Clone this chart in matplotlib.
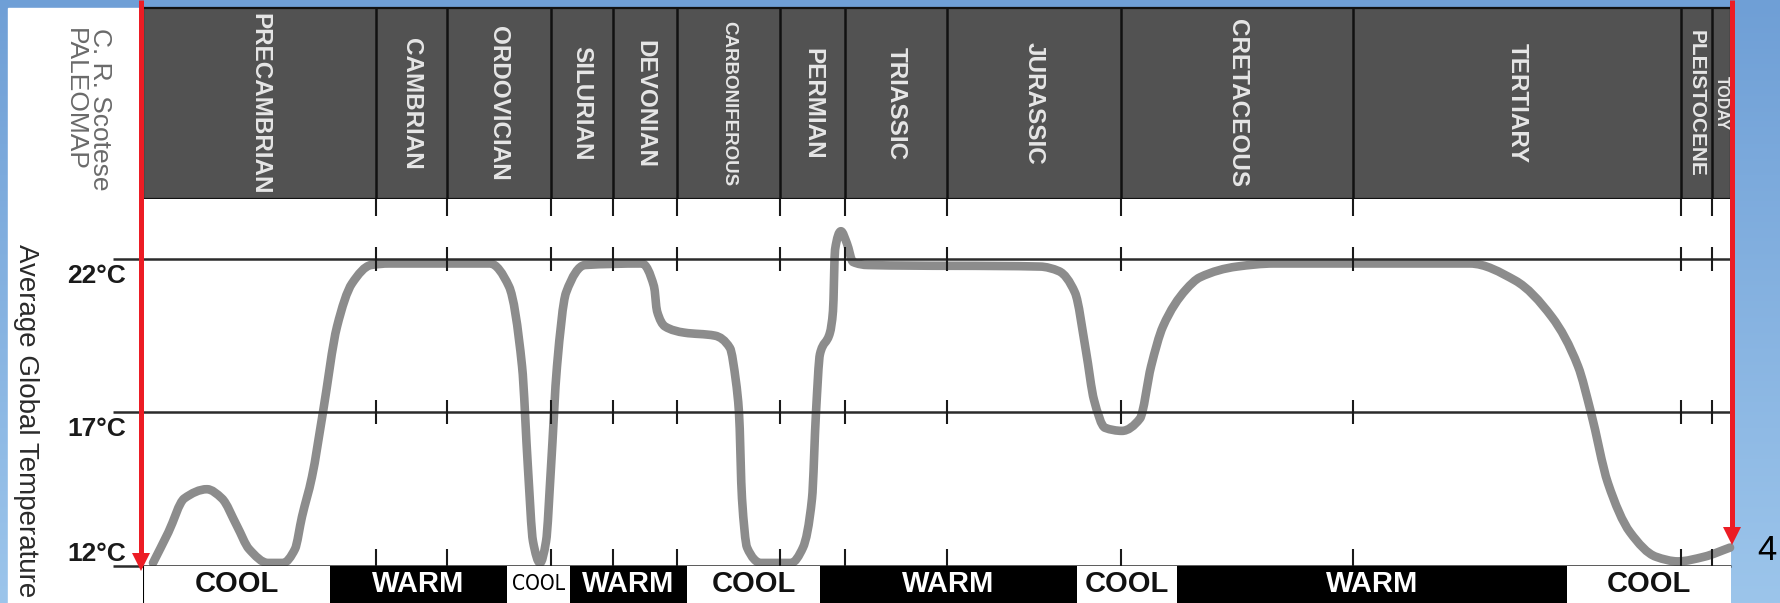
import numpy as np
import matplotlib
matplotlib.use("Agg")
import matplotlib.pyplot as plt
from matplotlib.patches import Rectangle, Polygon, PathPatch
from matplotlib.path import Path
from matplotlib.colors import LinearSegmentedColormap

plt.rcParams['font.family'] = ['Liberation Sans', 'DejaVu Sans']

# ---------------- data ----------------
# positions along the (non-linear) geologic time axis, 0 = left edge, 100 = today
period_names = ['PRECAMBRIAN', 'CAMBRIAN', 'ORDOVICIAN', 'SILURIAN', 'DEVONIAN',
                'CARBONIFEROUS', 'PERMIAN', 'TRIASSIC', 'JURASSIC', 'CRETACEOUS',
                'TERTIARY', 'PLEISTOCENE', 'TODAY']
period_bounds = [0, 14.67, 19.14, 25.69, 29.60, 33.63, 40.11, 44.21, 50.63,
                 61.59, 76.20, 96.85, 98.80, 100]

climate_labels = ['COOL', 'WARM', 'COOL', 'WARM', 'COOL', 'WARM', 'COOL', 'WARM', 'COOL']
climate_bounds = [0, 11.78, 22.92, 26.89, 34.26, 42.63, 58.82, 65.11, 89.67, 100]

temp_ticks = [22, 17, 12]
temp_tick_labels = ['22°C', '17°C', '12°C']

curve_x = [0.63, 1.6, 2.6, 4.03, 4.97, 5.92, 6.68, 7.87, 8.82, 9.57, 10.01, 10.64,
           11.33, 12.22, 13.16, 14.36, 15.5, 21.85, 23.05, 23.87, 24.24, 24.56,
           25.0, 25.38, 25.69, 26.07, 26.64, 27.83, 31.42, 32.18, 32.37, 32.87,
           34.07, 36.02, 36.96, 37.34, 37.53, 37.72, 38.04, 38.92, 40.81, 41.56,
           42.13, 42.38, 42.63, 43.26, 43.45, 43.58, 43.95, 44.33, 44.71, 45.65,
           56.49, 57.68, 58.69, 59.38, 59.89, 60.58, 61.65, 62.78, 63.48, 64.23,
           65.68, 66.56, 68.89, 71.22, 83.56, 86.40, 88.73, 90.37, 91.18, 92.25,
           93.64, 95.28, 96.66, 98.30, 99.94]
curve_T = [12.1, 13.1, 14.2, 14.5, 14.2, 13.3, 12.55, 12.1, 12.1, 12.55, 13.6, 14.9,
           17.0, 19.8, 21.2, 21.8, 21.85, 21.85, 21.1, 18.5, 15.2, 12.8,
           12.1, 12.8, 15.2, 18.5, 20.9, 21.8, 21.85, 21.1, 20.3, 19.8,
           19.6, 19.5, 19.1, 18.0, 17.0, 14.2, 12.6, 12.1, 12.1, 12.6,
           14.2, 17.0, 18.9, 19.6, 20.3, 22.3, 22.9, 22.5, 21.9, 21.8,
           21.75, 21.6, 20.9, 19.0, 17.4, 16.5, 16.4, 16.8, 18.5, 19.8,
           21.0, 21.4, 21.75, 21.85, 21.85, 21.3, 20.1, 18.5, 17.0, 14.7,
           13.1, 12.3, 12.15, 12.3, 12.6]

# ---------------- layout ----------------
W, H = 1781, 603
fig = plt.figure(figsize=(W / 100, H / 100), dpi=100)


def fax(x0, y0, x1, y1, **kw):
    return fig.add_axes([x0 / W, 1 - y1 / H, (x1 - x0) / W, (y1 - y0) / H], **kw)


def smooth_path(xs, ys):
    """Bezier path through every read point, with monotone (Fritsch-Carlson) tangents."""
    x = np.asarray(xs, float)
    y = np.asarray(ys, float)
    h = np.diff(x)
    d = np.diff(y) / h
    n = len(x)
    m = np.zeros(n)
    m[0], m[-1] = d[0], d[-1]
    for k in range(1, n - 1):
        if d[k - 1] * d[k] > 0:
            w1 = 2 * h[k] + h[k - 1]
            w2 = h[k] + 2 * h[k - 1]
            m[k] = (w1 + w2) / (w1 / d[k - 1] + w2 / d[k])
    verts = [(x[0], y[0])]
    codes = [Path.MOVETO]
    for k in range(n - 1):
        verts += [(x[k] + h[k] / 3, y[k] + m[k] * h[k] / 3),
                  (x[k + 1] - h[k] / 3, y[k + 1] - m[k + 1] * h[k] / 3),
                  (x[k + 1], y[k + 1])]
        codes += [Path.CURVE4] * 3
    return Path(verts, codes)


# background
bg = fax(0, 0, W, H)
bg.set_zorder(-5)
grad = np.linspace(0, 1, 256)[:, None]
cmap = LinearSegmentedColormap.from_list('bg', ['#6f9fd6', '#9cc5eb'])
bg.imshow(grad, extent=[0, W, H, 0], cmap=cmap, aspect='auto')
bg.add_patch(Rectangle((8, 8), 135, H, color='white'))
bg.set_xlim(0, W)
bg.set_ylim(H, 0)
bg.axis('off')

# header with period names
hd = fax(143, 8, 1731, 199)
hd.set_facecolor('#525252')
hd.set_xlim(0, 100)
hd.set_ylim(0, 1)
hd.set_xticks([])
hd.set_yticks([])
for s in hd.spines.values():
    s.set_color('#111111')
    s.set_linewidth(1.6)
hd.vlines(period_bounds[1:-1], 0, 1, color='#111111', lw=1.8)
label_size = {'CARBONIFEROUS': 13.5, 'PLEISTOCENE': 15, 'TODAY': 11.5}
for name, a, b in zip(period_names, period_bounds[:-1], period_bounds[1:]):
    hd.text((a + b) / 2, 0.5, name, rotation=270, ha='center', va='center',
            color='#e6e6e6', fontweight='bold', fontsize=label_size.get(name, 17.5),
            clip_on=True)

# main temperature panel
ax = fax(143, 199, 1731, 566)
ax.set_xlim(0, 100)
ax.set_ylim(12, 23.95)
ax.set_facecolor('white')
ax.set_xticks([])
ax.set_yticks([])
for s in ax.spines.values():
    s.set_visible(False)

curve = PathPatch(smooth_path(curve_x, curve_T), facecolor='none', edgecolor='#8c8c8c',
                  lw=6.2, joinstyle='round', capstyle='round', zorder=2, clip_on=False)
ax.add_patch(curve)
ax.hlines(temp_ticks, -1.9, 100, color='#2b2b2b', lw=1.8, zorder=3, clip_on=False)
inner = period_bounds[1:-1]
for t in temp_ticks[:2]:
    ax.vlines(inner, t - 0.39, t + 0.39, color='#1a1a1a', lw=1.5, zorder=3)
ax.vlines(inner, 12, 12.55, color='#1a1a1a', lw=1.5, zorder=3)
ax.vlines(inner, 23.95 - 0.55, 23.95, color='#1a1a1a', lw=1.5, zorder=3)

label_offsets = [-0.55, -0.55, 0.4]
for t, lab, off in zip(temp_ticks, temp_tick_labels, label_offsets):
    ax.text(-1.07, t + off, lab, ha='right', va='center', fontsize=19,
            fontweight='bold', color='#1a1a1a', clip_on=False)

# climate band
bd = fax(143, 566, 1731, 603)
bd.set_xlim(0, 100)
bd.set_ylim(0, 1)
bd.axis('off')
for lab, a, b in zip(climate_labels, climate_bounds[:-1], climate_bounds[1:]):
    warm = lab == 'WARM'
    bd.axvspan(a, b, color='black' if warm else 'white', lw=0)
    if (b - a) < 5:
        bd.text((a + b) / 2, 0.5, lab, ha='center', va='center', fontsize=15,
                family=['DejaVu Sans'], fontstretch='condensed', color='black')
    else:
        bd.text((a + b) / 2, 0.5, lab, ha='center', va='center', fontsize=21,
                fontweight='bold', color='white' if warm else '#111111')
bd.axvline(0, color='black', lw=1.5)

# axis titles
fig.text(26 / W, 1 - 244 / H, 'Average Global Temperature', rotation=270,
         ha='center', va='top', fontsize=20, color='#2a2a2a')
fig.text(93 / W, 1 - 28 / H, 'C. R. Scotese', rotation=270, rotation_mode='anchor',
         ha='left', va='baseline', fontsize=19, color='#6a6a6a')
fig.text(68 / W, 1 - 28 / H, 'PALEOMAP', rotation=270, rotation_mode='anchor',
         ha='left', va='baseline', fontsize=19, color='#6a6a6a')

# red annotation arrows and slide number
ov = fax(0, 0, W, H)
ov.set_zorder(10)
ov.set_xlim(0, W)
ov.set_ylim(H, 0)
ov.axis('off')
ov.patch.set_alpha(0)
red = '#ec1c24'
ov.plot([141, 141], [0, 556], color=red, lw=3.6, solid_capstyle='butt')
ov.add_patch(Polygon([[132, 553], [150, 553], [141, 571]], closed=True, color=red, lw=0))
ov.plot([1732, 1732], [0, 530], color=red, lw=3.6, solid_capstyle='butt')
ov.add_patch(Polygon([[1723, 527], [1741, 527], [1732, 545]], closed=True, color=red, lw=0))
ov.text(1767, 550, '4', ha='center', va='center', fontsize=25, color='black')

fig.savefig('out.png', dpi=100)
